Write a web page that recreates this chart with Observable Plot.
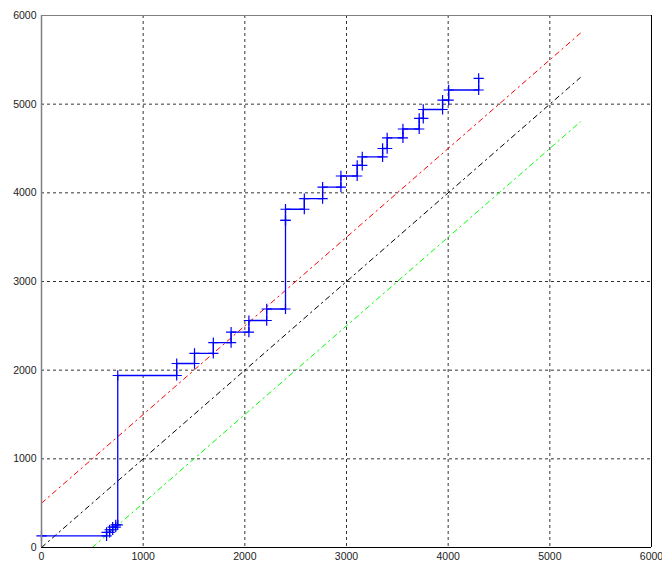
<!DOCTYPE html>
<html>
<head>
<meta charset="utf-8">
<script src="https://cdn.jsdelivr.net/npm/d3@7"></script>
<script src="https://cdn.jsdelivr.net/npm/@observablehq/plot@0.6"></script>
<style>
  html, body { margin: 0; padding: 0; background: #fff; }
  #chart svg { display: block; }
</style>
</head>
<body>
<div id="chart"></div>
<script>
// Step series (stairs, step-after): each point starts a horizontal segment
const stepX = [0, 640, 670, 700, 730, 750, 1330, 1505, 1690, 1865, 2040, 2215, 2400, 2400, 2585, 2765, 2945, 3105, 3155, 3355, 3400, 3555, 3715, 3755, 3945, 4005, 4300];
const stepY = [130, 170, 200, 230, 255, 1940, 2075, 2190, 2310, 2430, 2560, 2690, 3690, 3815, 3935, 4065, 4190, 4310, 4405, 4500, 4620, 4720, 4840, 4940, 5045, 5160, 5290];

// Reference dash-dot lines
const refX = [0, 5300];
const redY = [500, 5800];
const blackY = [0, 5300];
const greenX = [500, 5300];
const greenY = [0, 4800];

// Axis ticks
const ticks = [0, 1000, 2000, 3000, 4000, 5000, 6000];
const gridTicks = [1000, 2000, 3000, 4000, 5000];

const stepData = stepX.map((x, i) => ({x, y: stepY[i]}));
// markers at every vertex of the staircase
const markers = [{x: stepX[0], y: stepY[0]}];
for (let i = 1; i < stepX.length; i++) {
  markers.push({x: stepX[i], y: stepY[i - 1]});
  markers.push({x: stepX[i], y: stepY[i]});
}
const red = refX.map((x, i) => ({x, y: redY[i]}));
const black = refX.map((x, i) => ({x, y: blackY[i]}));
const green = greenX.map((x, i) => ({x, y: greenY[i]}));

const dashDot = "5,4,1.5,4";

const chart = Plot.plot({
  width: 662,
  height: 562,
  marginLeft: 41,
  marginRight: 11,
  marginTop: 15,
  marginBottom: 15,
  style: {fontFamily: "'Liberation Sans', Arial, sans-serif", fontSize: "10.5px", color: "#222", background: "#fff"},
  x: {domain: [0, 6000]},
  y: {domain: [0, 6000]},
  marks: [
    Plot.gridX(gridTicks, {stroke: "#000", strokeOpacity: 0.8, strokeDasharray: "3,3"}),
    Plot.gridY(gridTicks, {stroke: "#000", strokeOpacity: 0.8, strokeDasharray: "3,3"}),
    Plot.line(red, {x: "x", y: "y", stroke: "#ff0000", strokeWidth: 1, strokeDasharray: dashDot}),
    Plot.line(black, {x: "x", y: "y", stroke: "#000000", strokeWidth: 1, strokeDasharray: dashDot}),
    Plot.line(green, {x: "x", y: "y", stroke: "#00ff00", strokeWidth: 1, strokeDasharray: dashDot}),
    Plot.line(stepData, {x: "x", y: "y", curve: "step-after", stroke: "#0000ff", strokeWidth: 1.3}),
    Plot.dot(markers, {x: "x", y: "y", symbol: "plus", r: 3.4, stroke: "#0000ff", strokeWidth: 1.2}),
    Plot.ruleY([6000], {stroke: "#808080", strokeWidth: 1}),
    Plot.ruleX([0], {stroke: "#808080", strokeWidth: 1.5}),
    Plot.ruleY([0], {stroke: "#000", strokeWidth: 1}),
    Plot.ruleX([6000], {stroke: "#000", strokeWidth: 1}),
    Plot.axisX(ticks, {tickSize: 0, tickPadding: 5, tickFormat: d => String(d), label: null}),
    Plot.axisY(ticks, {tickSize: 0, tickPadding: 5, tickFormat: d => String(d), label: null})
  ]
});
document.getElementById("chart").appendChild(chart);
</script>
</body>
</html>
